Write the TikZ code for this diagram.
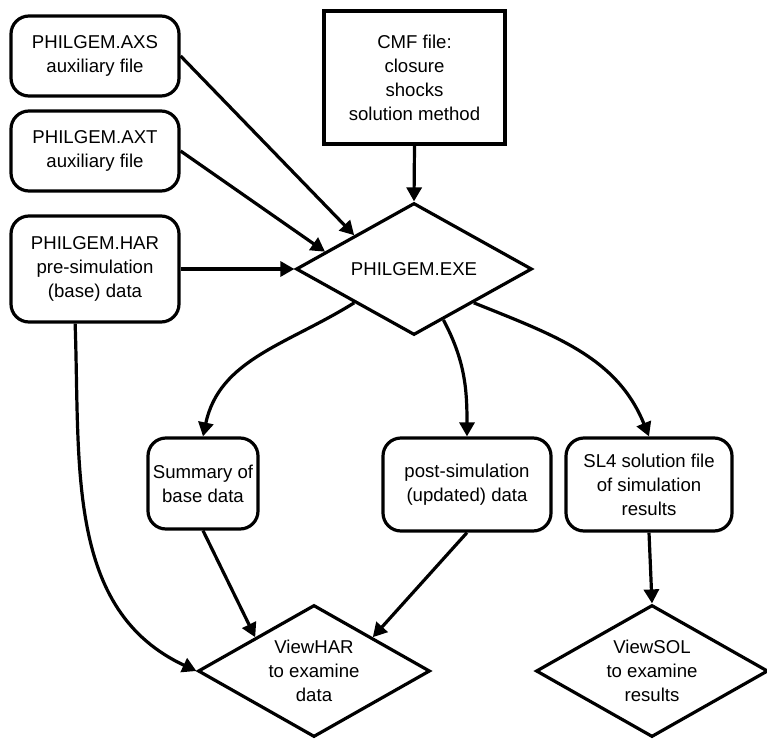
\documentclass[tikz,border=0pt]{standalone}
\usepackage{fontspec}
\setmainfont{Liberation Sans}
\usepackage{tikz}
\usetikzlibrary{shapes.geometric, arrows.meta, positioning}

\begin{document}
\begin{tikzpicture}[x=1pt,y=-1pt,
  every node/.style={font=\fontsize{18.6}{24}\selectfont, align=center, inner sep=0pt},
  filebox/.style={draw, line width=3.2pt, rounded corners=18pt, minimum width=168pt, minimum height=80pt},
  cmfbox/.style={draw, line width=3.2pt, minimum width=181pt, minimum height=133pt},
  prog/.style={draw, diamond, aspect=2, line width=3.2pt, minimum width=236pt, minimum height=132pt},
  arr/.style={-{Triangle[length=14pt,width=15pt]}, line width=3.2pt}]
\useasboundingbox (0,0) rectangle (767,738);
\node[filebox] (axs) at (95,56) {PHILGEM.AXS\\auxiliary file};
\node[filebox] (axt) at (95,151) {PHILGEM.AXT\\auxiliary file};
\node[filebox, minimum height=106pt] (har) at (95,269) {PHILGEM.HAR\\pre-simulation\\(base) data};
\node[cmfbox] (cmf) at (414.5,77.5) {CMF file:\\closure\\shocks\\solution method};
\node[prog] (exe) at (414,269) {PHILGEM.EXE};
\node[filebox, minimum width=110pt, minimum height=91pt] (summ) at (203,483.5) {Summary of\\base data};
\node[filebox, minimum height=93pt] (post) at (467,484.5) {post-simulation\\(updated) data};
\node[filebox, minimum width=166pt, minimum height=93pt] (sl4) at (649,484.5) {SL4 solution file\\of simulation\\results};
\node[prog, minimum width=232pt] (vhar) at (314,671) {ViewHAR\\to examine\\data};
\node[prog, minimum width=232pt] (vsol) at (652,671) {ViewSOL\\to examine\\results};

\draw[arr] (axs.east) -- (exe.north west);
\draw[arr] (axt.east) -- (exe.169);
\draw[arr] (har.east) -- (exe.west);
\draw[arr] (cmf.south) -- (exe.north);
\draw[arr] (exe.south west) to[out=212,in=78] (summ.north);
\draw[arr] (exe.300) to[out=-62,in=90] (post.north);
\draw[arr] (exe.south east) to[out=-22,in=112] (sl4.north);
\draw[arr] (har.250) to[out=-88,in=155] (vhar.west);
\draw[arr] (summ.south) -- (vhar.north west);
\draw[arr] (post.south) -- (vhar.north east);
\draw[arr] (sl4.south) -- (vsol.north);
\end{tikzpicture}
\end{document}
